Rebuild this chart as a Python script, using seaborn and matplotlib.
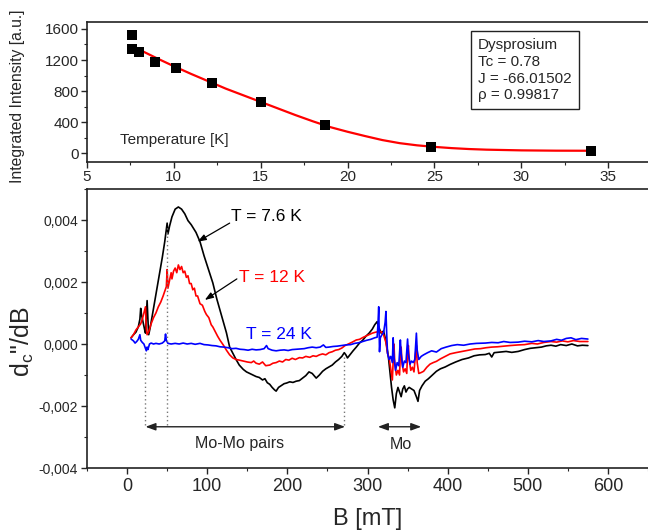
import numpy as np
import pandas as pd
import matplotlib
matplotlib.use("Agg")
import matplotlib.pyplot as plt
from matplotlib.ticker import MultipleLocator, FuncFormatter
import seaborn as sns

# ---------------- data: top panel ----------------
temp_pts = [7.6, 7.6, 8.0, 8.9, 10.1, 12.2, 15.0, 18.7, 24.8, 34.0]
intensity_pts = [1525, 1340, 1300, 1170, 1100, 905, 660, 360, 78, 28]

fit_T = [7.6, 8, 9, 10, 11, 12, 13, 14, 15, 16, 17, 18, 19, 20, 21, 22, 23,
         24, 25, 26, 27, 28, 30, 32, 34]
fit_I = [1375, 1335, 1225, 1120, 1020, 925, 830, 745, 660, 575, 490, 410, 335,
         275, 220, 168, 128, 100, 80, 64, 52, 44, 35, 31, 30]

# ---------------- data: bottom panel (values x 1e-3) ----------------
B_76 = [5, 8, 11, 14, 16, 17, 18, 20, 22, 23, 24, 25, 26, 27, 29, 32, 35, 38, 41, 44,
        47, 50, 51, 53, 56, 60, 64, 68, 72, 76, 80, 86, 91, 96, 101, 107, 112, 118,
        124, 128, 132, 136, 140, 145, 149, 153, 157, 161, 165, 169, 172, 175, 178,
        181, 184, 186, 189, 192, 196, 199, 203, 207, 211, 215, 219, 223, 227, 231,
        236, 240, 244, 248, 252, 256, 260, 264, 268, 271, 273, 275, 278, 282, 286,
        290, 294, 298, 302, 306, 309, 312, 314, 317, 320, 323, 326, 328, 330, 332,
        334, 336, 338, 340, 342, 344, 346, 348, 350, 352, 355, 358, 361, 363, 365,
        368, 372, 376, 381, 386, 391, 397, 403, 410, 418, 426, 433, 440, 447, 452,
        455, 458, 465, 473, 480, 488, 496, 503, 510, 517, 523, 529, 535, 541, 548,
        555, 562, 568, 575]
V_76 = [0.20, 0.30, 0.38, 0.55, 0.80, 1.15, 0.95, 0.70, 0.45, 0.35, 0.90, 1.40, 0.80,
        0.30, 0.55, 1.00, 1.45, 1.90, 2.35, 2.80, 3.30, 3.90, 3.55, 3.80, 4.10, 4.35,
        4.42, 4.35, 4.20, 3.98, 3.85, 3.60, 3.30, 2.85, 2.45, 1.97, 1.45, 0.90, 0.36,
        -0.10, -0.30, -0.50, -0.68, -0.82, -0.90, -0.95, -1.00, -1.05, -1.08, -1.16,
        -1.12, -1.25, -1.30, -1.40, -1.48, -1.52, -1.40, -1.35, -1.28, -1.26, -1.22,
        -1.24, -1.20, -1.18, -1.10, -1.02, -0.90, -0.95, -1.10, -1.00, -0.88, -0.80,
        -0.74, -0.68, -0.58, -0.50, -0.40, -0.28, -0.35, -0.45, -0.35, -0.22, -0.10,
        0.03, 0.12, 0.25, 0.35, 0.48, 0.62, 0.72, 0.55, 0.35, 0.42, 0.10, -0.40,
        -0.90, -1.40, -1.80, -2.06, -1.60, -1.40, -1.55, -1.70, -1.45, -1.35, -1.55,
        -1.45, -1.40, -1.45, -1.50, -1.70, -1.85, -1.50, -1.35, -1.20, -1.12, -1.00,
        -0.88, -0.80, -0.74, -0.66, -0.58, -0.50, -0.45, -0.38, -0.35, -0.34, -0.30,
        -0.42, -0.28, -0.26, -0.24, -0.27, -0.24, -0.18, -0.14, -0.12, -0.10, -0.06,
        -0.04, -0.07, -0.02, -0.05, 0.00, -0.06, -0.04, -0.05]

B_12 = [5, 8, 11, 14, 17, 19, 21, 23, 24, 25, 27, 30, 33, 36, 39, 42, 45, 47, 49, 50,
        51, 53, 55, 56, 58, 60, 62, 64, 66, 68, 70, 72, 74, 76, 78, 80, 82, 84, 86,
        88, 91, 94, 97, 99, 102, 105, 107, 110, 113, 116, 120, 124, 128, 132, 136,
        140, 145, 150, 155, 158, 161, 165, 169, 173, 178, 182, 186, 190, 194, 198,
        202, 206, 210, 215, 219, 223, 228, 232, 236, 240, 244, 248, 252, 256, 260,
        264, 268, 272, 276, 281, 286, 290, 295, 300, 306, 310, 314, 317, 320, 323,
        325, 327, 329, 331, 332, 333, 334, 336, 338, 340, 341, 342, 343, 345, 347,
        349, 350, 351, 352, 354, 356, 358, 360, 361, 362, 364, 367, 370, 374, 378,
        382, 386, 391, 397, 403, 410, 418, 426, 434, 441, 448, 455, 462, 470, 478,
        488, 496, 505, 512, 520, 529, 536, 543, 550, 557, 565, 575]
V_12 = [0.20, 0.30, 0.45, 0.55, 0.65, 0.80, 1.00, 1.20, 0.50, 0.30, 0.40, 0.65, 0.85,
        1.00, 1.20, 1.35, 1.55, 1.70, 1.85, 2.40, 1.80, 2.05, 2.30, 2.10, 2.35, 2.45,
        2.30, 2.55, 2.40, 2.50, 2.30, 2.35, 2.15, 2.20, 1.95, 1.95, 1.75, 1.80, 1.55,
        1.55, 1.30, 1.25, 1.05, 0.95, 0.85, 0.62, 0.55, 0.40, 0.25, 0.12, -0.03,
        -0.20, -0.35, -0.45, -0.50, -0.52, -0.55, -0.58, -0.60, -0.55, -0.62, -0.65,
        -0.58, -0.70, -0.68, -0.62, -0.60, -0.55, -0.58, -0.50, -0.52, -0.46, -0.50,
        -0.44, -0.45, -0.40, -0.43, -0.38, -0.40, -0.35, -0.32, -0.35, -0.28, -0.25,
        -0.20, -0.18, -0.13, -0.05, 0.00, 0.06, 0.13, 0.15, 0.22, 0.28, 0.35, 0.38,
        0.40, 0.40, 0.30, 0.05, -0.30, -0.45, -0.80, -1.16, -0.60, 0.00, -0.60,
        -1.00, -0.85, -1.00, -0.30, -0.10, -0.60, -0.90, -0.80, -0.95, -0.25, -0.05,
        -0.50, -0.85, -0.75, -0.90, -0.30, -0.05, -0.60, -0.95, -0.92, -0.88, -0.75,
        -0.65, -0.60, -0.56, -0.48, -0.40, -0.32, -0.28, -0.24, -0.20, -0.16, -0.15,
        -0.12, -0.10, -0.09, -0.07, -0.05, -0.03, -0.02, 0.02, 0.00, 0.05, 0.08, 0.06,
        0.10, 0.07, 0.11, 0.08, 0.08]

B_24 = [5, 8, 10, 12, 14, 16, 17, 19, 21, 23, 24, 25, 26, 28, 30, 33, 36, 40, 44, 47,
        48, 49, 51, 55, 60, 65, 70, 75, 80, 85, 91, 96, 101, 106, 111, 116, 121, 126,
        131, 136, 141, 146, 151, 156, 161, 166, 171, 174, 176, 181, 186, 191, 196,
        201, 206, 211, 216, 221, 226, 231, 236, 241, 245, 248, 252, 257, 262, 268,
        273, 279, 284, 289, 294, 299, 304, 309, 312, 313, 314, 315, 316, 318, 320,
        322, 323, 324, 325, 327, 329, 331, 332, 333, 335, 337, 339, 341, 342, 344,
        346, 348, 350, 351, 353, 355, 357, 359, 361, 362, 364, 367, 370, 375, 380,
        386, 392, 398, 405, 412, 420, 428, 436, 447, 455, 463, 470, 478, 488, 496,
        505, 513, 520, 529, 536, 542, 548, 554, 560, 567, 575]
V_24 = [0.16, 0.10, 0.03, 0.08, 0.15, 0.30, 0.12, 0.05, 0.00, -0.15, -0.22, -0.10,
        -0.18, 0.00, 0.03, 0.00, 0.02, 0.00, 0.03, 0.10, 0.32, 0.12, 0.02, 0.00, 0.02,
        0.00, 0.03, 0.00, 0.02, -0.01, 0.02, -0.02, -0.03, -0.05, -0.06, -0.09, -0.10,
        -0.12, -0.15, -0.14, -0.17, -0.18, -0.20, -0.17, -0.19, -0.18, -0.15, -0.05,
        -0.15, -0.20, -0.22, -0.20, -0.19, -0.21, -0.18, -0.17, -0.16, -0.15, -0.12,
        -0.10, -0.12, -0.10, -0.03, -0.11, -0.10, -0.08, -0.07, -0.05, -0.03, -0.02,
        0.02, 0.04, 0.08, 0.12, 0.15, 0.20, 0.22, 0.60, 1.20, -0.25, 0.20, 0.30, 0.35,
        0.70, 1.05, 0.30, -0.30, -0.50, -0.40, -0.60, 0.20, -0.40, -0.85, -0.60,
        -0.70, 0.13, -0.30, -0.75, -0.55, -0.60, 0.16, -0.30, -0.65, -0.55, -0.60,
        -0.50, 0.35, -0.20, -0.50, -0.40, -0.35, -0.28, -0.22, -0.26, -0.15, -0.10,
        -0.05, -0.02, -0.04, 0.00, 0.02, 0.03, 0.05, 0.04, 0.08, 0.05, 0.06, 0.09,
        0.07, 0.11, 0.08, 0.10, 0.15, 0.12, 0.18, 0.20, 0.14, 0.18, 0.16]

series_labels = ["T = 7.6 K", "T = 12 K", "T = 24 K"]
series_colors = ["black", "#ff0000", "#0000ff"]
region_labels = ["Mo-Mo pairs", "Mo"]

# ---------------- figure ----------------
sns.set_style("ticks")
plt.rcParams["font.family"] = ["Liberation Sans", "DejaVu Sans"]
plt.rcParams["mathtext.fontset"] = "custom"
plt.rcParams["mathtext.rm"] = "Liberation Sans"
plt.rcParams["axes.linewidth"] = 1.2
plt.rcParams["axes.edgecolor"] = "#222222"

fig = plt.figure(figsize=(6.48, 5.32), dpi=100)
ax1 = fig.add_axes([87 / 648, 1 - 162 / 532, 561 / 648, 140 / 532])
ax2 = fig.add_axes([87 / 648, 1 - 468 / 532, 561 / 648, 279 / 532])

# top panel
sns.lineplot(x=fit_T, y=fit_I, ax=ax1, color="#ff0000", linewidth=1.6,
             sort=False, estimator=None)
sns.scatterplot(x=temp_pts, y=intensity_pts, ax=ax1, color="black", marker="s",
                s=42, edgecolor="black", linewidth=0, zorder=3)
ax1.set_xlim(5, 37.3)
ax1.set_ylim(-115, 1690)
ax1.xaxis.set_major_locator(MultipleLocator(5))
ax1.xaxis.set_minor_locator(MultipleLocator(2.5))
ax1.yaxis.set_major_locator(MultipleLocator(400))
ax1.yaxis.set_minor_locator(MultipleLocator(200))
ax1.tick_params(axis="both", which="major", labelsize=11, length=4, width=1, direction="out", pad=2)
ax1.tick_params(axis="both", which="minor", length=2.2, width=0.8, direction="out")
ax1.spines["right"].set_visible(False)
ax1.set_xlabel("")
ax1.set_ylabel("")
ax1.text(0.059, 0.157, "Temperature [K]", transform=ax1.transAxes, fontsize=11,
         ha="left", va="center")
ax1.text(0.697, 0.885, "Dysprosium\nTc = 0.78\nJ = -66.01502\nρ = 0.99817",
         transform=ax1.transAxes, fontsize=11, ha="left", va="top", linespacing=1.25,
         bbox=dict(boxstyle="square,pad=0.45", facecolor="white", edgecolor="#222222", lw=1))
fig.text(18 / 648, 1 - 96 / 532, "Integrated Intensity [a.u.]", rotation=90,
         ha="center", va="center", fontsize=11.3)

# bottom panel
for Bv, Vv, col in zip([B_76, B_12, B_24], [V_76, V_12, V_24], series_colors):
    sns.lineplot(x=Bv, y=np.array(Vv) * 1e-3, ax=ax2, color=col, linewidth=1.2,
                 sort=False, estimator=None)

ax2.set_xlim(-50, 650)
ax2.set_ylim(-0.004, 0.005)
ax2.xaxis.set_major_locator(MultipleLocator(100))
ax2.xaxis.set_minor_locator(MultipleLocator(50))
ax2.yaxis.set_major_locator(MultipleLocator(0.002))
ax2.yaxis.set_minor_locator(MultipleLocator(0.001))
ax2.yaxis.set_major_formatter(FuncFormatter(lambda v, p: ("%.3f" % v).replace(".", ",").replace("-0,000", "0,000")))
ax2.tick_params(axis="x", which="major", labelsize=13, length=4.5, width=1, direction="out", pad=3)
ax2.tick_params(axis="y", which="major", labelsize=10, length=4.5, width=1, direction="out", pad=2)
ax2.tick_params(axis="both", which="minor", length=2.5, width=0.8, direction="out")
ax2.spines["right"].set_visible(False)
ax2.set_xlabel("")
ax2.set_ylabel("")

# dotted guides
guide_B = [22, 50, 271]
guide_top = [-0.0002, 0.0038, -0.0004]
guide_bottom = -0.00262
for gb, gt in zip(guide_B, guide_top):
    ax2.plot([gb, gb], [guide_bottom, gt], linestyle=(0, (1, 2)), color="#777777", lw=1)

# double arrows
arrow_y = -0.00267
ax2.annotate("", xy=(23, arrow_y), xytext=(272, arrow_y),
             arrowprops=dict(arrowstyle="<|-|>,head_length=0.6,head_width=0.22", color="#222222", lw=1, shrinkA=0, shrinkB=0))
ax2.annotate("", xy=(313, arrow_y), xytext=(367, arrow_y),
             arrowprops=dict(arrowstyle="<|-|>,head_length=0.6,head_width=0.22", color="#222222", lw=1, shrinkA=0, shrinkB=0))
ax2.text(140, -0.00322, region_labels[0], fontsize=11.5, ha="center", va="center")
ax2.text(342, -0.00325, region_labels[1], fontsize=11.5, ha="center", va="center")

# series labels with arrows
ax2.text(130, 0.0041, series_labels[0], color=series_colors[0], fontsize=12.5, ha="left", va="center")
ax2.text(140, 0.00213, series_labels[1], color=series_colors[1], fontsize=12.5, ha="left", va="center")
ax2.text(149, 0.00032, series_labels[2], color=series_colors[2], fontsize=12.5, ha="left", va="center")
ax2.annotate("", xy=(88, 0.0033), xytext=(128, 0.0039),
             arrowprops=dict(arrowstyle="-|>,head_length=0.5,head_width=0.18", color="black", lw=0.9, shrinkA=0, shrinkB=0))
ax2.annotate("", xy=(97, 0.00142), xytext=(137, 0.0021),
             arrowprops=dict(arrowstyle="-|>,head_length=0.5,head_width=0.18", color="black", lw=0.9, shrinkA=0, shrinkB=0))

fig.text(22 / 648, 1 - 342 / 532, 'd$_\\mathregular{c}$"/dB', rotation=90,
         ha="center", va="center", fontsize=18)
fig.text(368 / 648, 1 - 519 / 532, "B [mT]", ha="center", va="center", fontsize=17)

fig.savefig("out.png", dpi=100)
